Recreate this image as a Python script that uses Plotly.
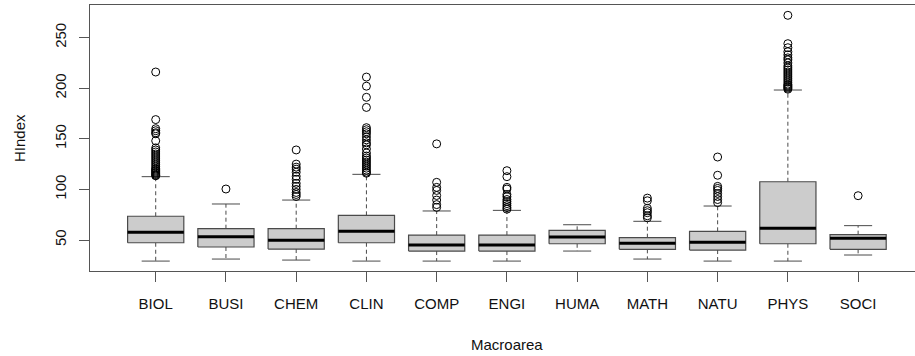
import plotly.graph_objects as go

categories = ["BIOL", "BUSI", "CHEM", "CLIN", "COMP", "ENGI", "HUMA", "MATH", "NATU", "PHYS", "SOCI"]
q1 = [47.3, 43.1, 41.1, 47.3, 39.1, 39.1, 46.3, 40.8, 40.1, 46.3, 40.8]
median = [57.6, 53.3, 49.7, 58.6, 45.1, 45.1, 53.0, 46.7, 47.7, 61.6, 51.7]
q3 = [73.5, 61.2, 61.2, 74.4, 54.9, 54.9, 59.6, 52.3, 58.6, 107.6, 55.3]
lower_whisker = [29.2, 31.2, 30.2, 29.2, 29.2, 29.2, 39.1, 31.2, 29.2, 29.2, 35.2]
upper_whisker = [112.6, 85.6, 89.5, 114.9, 78.7, 79.3, 65.1, 68.5, 83.6, 198.2, 64.2]

out_biol = [216, 169, 160, 158, 156, 155, 148, 141, 139, 137, 135, 133, 131, 129, 127, 125,
            123, 121, 120, 119, 118, 117, 116, 115, 114, 113.5]
out_busi = [100.4]
out_chem = [139, 125, 122, 120, 117, 113, 110, 106, 103, 100, 97, 95, 93]
out_clin = [211, 202, 191, 181, 161, 159, 157, 155, 152, 149, 146, 144, 140, 136, 133, 131,
            129, 127, 125, 123, 121, 119, 117, 116]
out_comp = [145, 107, 102, 99, 94, 89.5, 85, 82.3]
out_engi = [118.5, 112.6, 102, 100.4, 95, 92.8, 90, 88, 86, 84, 82, 80.5]
out_huma = []
out_math = [91.4, 88.8, 81.3, 79, 77, 74, 72]
out_natu = [132, 114, 103, 101, 99, 96, 93, 90, 87]
out_phys = [272, 244, 240, 236, 233, 230, 228, 225, 222, 220, 218, 216, 214, 212, 210, 208,
            206, 204, 203, 202, 201, 200, 199]
out_soci = [93.8]

outliers = [out_biol, out_busi, out_chem, out_clin, out_comp, out_engi, out_huma,
            out_math, out_natu, out_phys, out_soci]

BOX_HALF = 0.4
CAP_HALF = 0.2
EDGE = "#4a4a4a"
FILL = "#cccccc"

fig = go.Figure()
positions = list(range(1, len(categories) + 1))

for i, pos in enumerate(positions):
    # whiskers (dashed)
    fig.add_trace(go.Scatter(x=[pos, pos, None, pos, pos],
                             y=[q3[i], upper_whisker[i], None, q1[i], lower_whisker[i]],
                             mode="lines", line=dict(color=EDGE, width=1, dash="4px,3px"),
                             hoverinfo="skip", showlegend=False))
    # caps
    fig.add_trace(go.Scatter(x=[pos - CAP_HALF, pos + CAP_HALF, None, pos - CAP_HALF, pos + CAP_HALF],
                             y=[upper_whisker[i], upper_whisker[i], None, lower_whisker[i], lower_whisker[i]],
                             mode="lines", line=dict(color=EDGE, width=1),
                             hoverinfo="skip", showlegend=False))
    # box
    fig.add_trace(go.Scatter(x=[pos - BOX_HALF, pos + BOX_HALF, pos + BOX_HALF, pos - BOX_HALF, pos - BOX_HALF],
                             y=[q1[i], q1[i], q3[i], q3[i], q1[i]],
                             mode="lines", fill="toself", fillcolor=FILL,
                             line=dict(color=EDGE, width=1.2),
                             hoverinfo="skip", showlegend=False))
    # median
    fig.add_trace(go.Scatter(x=[pos - BOX_HALF, pos + BOX_HALF], y=[median[i], median[i]],
                             mode="lines", line=dict(color="black", width=3),
                             hoverinfo="skip", showlegend=False))
    # outliers
    if outliers[i]:
        fig.add_trace(go.Scatter(x=[pos] * len(outliers[i]), y=outliers[i], mode="markers",
                                 marker=dict(symbol="circle-open", size=8, color="black",
                                             line=dict(width=1, color="black")),
                                 hoverinfo="skip", showlegend=False))

font = dict(family="Liberation Sans, Arial, sans-serif", size=15, color="#111")

fig.update_layout(
    width=915, height=356,
    margin=dict(l=90, r=0, t=5, b=85),
    paper_bgcolor="white", plot_bgcolor="white",
    font=font,
    xaxis=dict(range=[0.0645, 11.81], tickvals=positions, ticktext=categories,
               showgrid=False, zeroline=False, showline=True, mirror=True,
               linecolor="#555", linewidth=1, ticks="outside", ticklen=10,
               tickcolor="#555", tickwidth=1, ticklabelstandoff=9, tickfont=font),
    yaxis=dict(range=[19.4, 282.2], tickvals=[50, 100, 150, 200, 250],
               showgrid=False, zeroline=False, showline=True, mirror=False,
               linecolor="#555", linewidth=1, ticks="outside", ticklen=10,
               tickcolor="#555", tickwidth=1, tickangle=-90, ticklabelstandoff=7,
               tickfont=font),
    annotations=[
        dict(text="Macroarea", xref="paper", yref="paper", x=0.505, y=-0.278,
             xanchor="center", yanchor="middle", showarrow=False, font=font),
        dict(text="HIndex", xref="paper", yref="paper", x=-0.086, y=0.5,
             xanchor="center", yanchor="middle", textangle=-90, showarrow=False, font=font),
    ],
)

fig.write_html("out.html")
